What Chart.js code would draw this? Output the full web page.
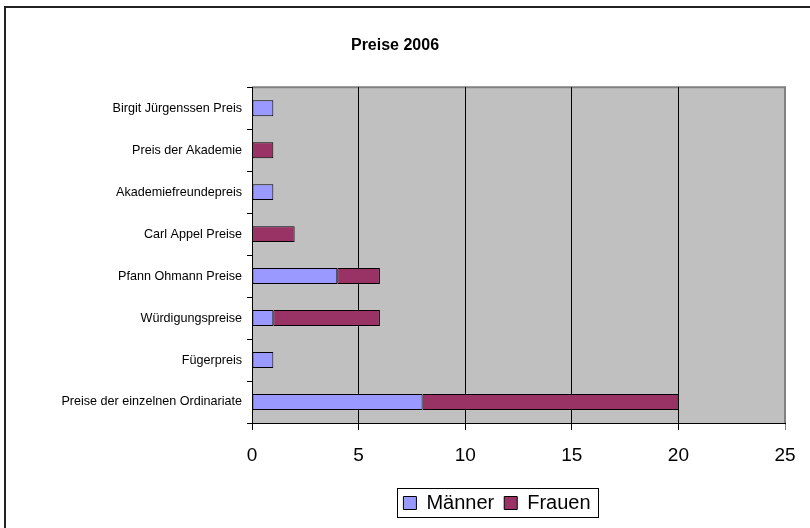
<!DOCTYPE html>
<html>
<head>
<meta charset="utf-8">
<script src="https://cdn.jsdelivr.net/npm/chart.js@4/dist/chart.umd.min.js"></script>
<style>
  html, body { margin: 0; padding: 0; background: #fff; }
  #wrap { width: 810px; height: 528px; }
</style>
</head>
<body>
<div id="wrap"><canvas id="chart" width="810" height="528"></canvas></div>
<script>
// chart data (top to bottom)
const categories = [
  'Birgit Jürgenssen Preis',
  'Preis der Akademie',
  'Akademiefreundepreis',
  'Carl Appel Preise',
  'Pfann Ohmann Preise',
  'Würdigungspreise',
  'Fügerpreis',
  'Preise der einzelnen Ordinariate'
];
const maenner = [1, 0, 1, 0, 4, 1, 1, 8];
const frauen = [0, 1, 0, 2, 2, 5, 0, 12];
const xTicks = [0, 5, 10, 15, 20, 25];

const FONT = "'Liberation Sans', Arial, sans-serif";
const LEGEND_SHIFT = 102; // legend sits right of centre in the original

// grey plot area, outer frame and box around the legend
const framePlugin = {
  id: 'frame',
  afterLayout(chart) {
    const lg = chart.legend;
    lg.left += LEGEND_SHIFT;
    lg.right += LEGEND_SHIFT;
    if (lg.legendHitBoxes) {
      lg.legendHitBoxes.forEach((h) => { h.left += LEGEND_SHIFT; });
    }
  },
  beforeDraw(chart) {
    const ctx = chart.ctx;
    const a = chart.chartArea;
    ctx.save();
    ctx.fillStyle = '#fff';
    ctx.fillRect(0, 0, chart.width, chart.height);
    ctx.strokeStyle = '#222';
    ctx.lineWidth = 2;
    ctx.beginPath();
    ctx.moveTo(5, chart.height + 5);
    ctx.lineTo(5, 7);
    ctx.lineTo(chart.width + 5, 7);
    ctx.stroke();
    ctx.fillStyle = '#C0C0C0';
    ctx.fillRect(a.left, a.top, a.right - a.left, a.bottom - a.top);
    ctx.strokeStyle = '#808080';
    ctx.lineWidth = 2;
    ctx.beginPath();
    ctx.moveTo(a.left, a.top);
    ctx.lineTo(a.right, a.top);
    ctx.lineTo(a.right, a.bottom);
    ctx.stroke();
    ctx.restore();
  },
  afterDraw(chart) {
    const boxes = chart.legend.legendHitBoxes;
    if (!boxes || !boxes.length) return;
    let l = Infinity, t = Infinity, r = -Infinity, b = -Infinity;
    boxes.forEach((h) => {
      l = Math.min(l, h.left); t = Math.min(t, h.top);
      r = Math.max(r, h.left + h.width); b = Math.max(b, h.top + h.height);
    });
    const ctx = chart.ctx;
    ctx.save();
    ctx.strokeStyle = '#000';
    ctx.lineWidth = 1;
    ctx.strokeRect(Math.round(l - 6) + 0.5, Math.round(t - 5) + 0.5, Math.round(r - l + 14), Math.round(b - t + 9));
    ctx.restore();
  }
};

const ctx = document.getElementById('chart');
new Chart(ctx, {
  type: 'bar',
  data: {
    labels: categories,
    datasets: [
      {
        label: 'Männer',
        data: maenner,
        backgroundColor: '#9999FF',
        borderColor: '#000',
        borderWidth: 1,
        borderSkipped: false,
        categoryPercentage: 1,
        barPercentage: 0.38
      },
      {
        label: 'Frauen',
        data: frauen,
        backgroundColor: '#993366',
        borderColor: '#000',
        borderWidth: 1,
        borderSkipped: false,
        categoryPercentage: 1,
        barPercentage: 0.38
      }
    ]
  },
  options: {
    indexAxis: 'y',
    responsive: false,
    animation: false,
    layout: { padding: { left: 5, right: 25, top: 0, bottom: 5 } },
    plugins: {
      title: {
        display: true,
        text: 'Preise 2006',
        color: '#000',
        font: { family: FONT, size: 16, weight: 'bold' },
        padding: { top: 36, bottom: 32 }
      },
      legend: {
        position: 'bottom',
        labels: {
          color: '#000',
          font: { family: FONT, size: 20 },
          boxWidth: 13,
          boxHeight: 13,
          padding: 10
        }
      },
      tooltip: { enabled: false }
    },
    scales: {
      x: {
        stacked: true,
        min: 0,
        max: 25,
        afterBuildTicks(scale) {
          scale.ticks = xTicks.map((v) => ({ value: v }));
        },
        afterFit(scale) {
          scale.height = 60;
        },
        ticks: {
          color: '#000',
          font: { family: FONT, size: 19 },
          padding: 14,
          maxRotation: 0
        },
        grid: {
          color: (c) => (c.tick && c.tick.value === 25 ? '#808080' : '#000'),
          tickLength: 7,
          lineWidth: 1
        },
        border: { display: true, color: '#000', width: 1 }
      },
      y: {
        stacked: true,
        afterFit(scale) {
          scale.width = 247;
        },
        ticks: {
          color: '#000',
          font: { family: FONT, size: 12.6 },
          padding: 5
        },
        grid: {
          offset: true,
          drawOnChartArea: false,
          drawTicks: true,
          tickLength: 5,
          color: '#000'
        },
        border: { display: true, color: '#000', width: 1 }
      }
    }
  },
  plugins: [framePlugin]
});
</script>
</body>
</html>
